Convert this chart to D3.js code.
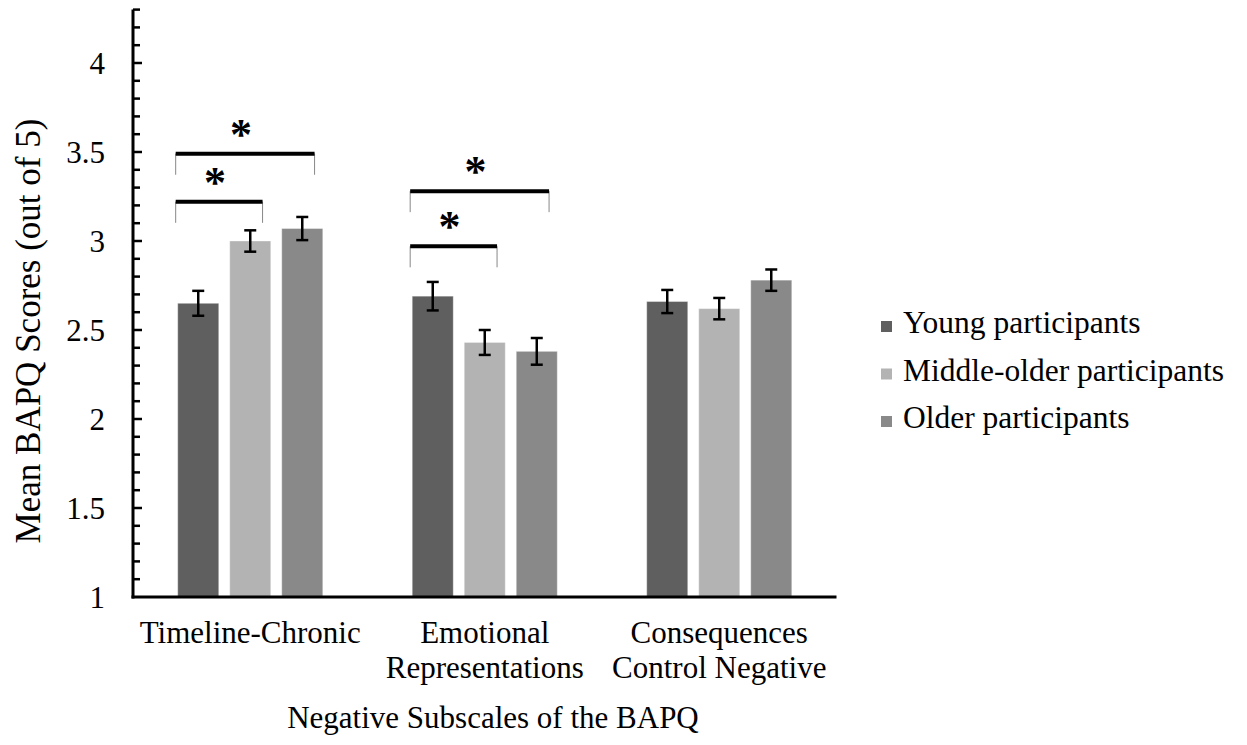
<!DOCTYPE html>
<html>
<head>
<meta charset="utf-8">
<script src="https://cdn.jsdelivr.net/npm/d3@7"></script>
<style>
  html, body { margin: 0; padding: 0; background: #fff; }
  svg text { font-family: 'Liberation Serif', 'Times New Roman', serif; fill: #000; }
</style>
</head>
<body>
<div id="chart"></div>
<script>
// chart data
const categories = [['Timeline-Chronic'], ['Emotional', 'Representations'], ['Consequences', 'Control Negative']];
const seriesNames = ['Young participants', 'Middle-older participants', 'Older participants'];
const seriesColors = ['#5f5f5f', '#b3b3b3', '#898989'];
const youngMeans = [2.65, 2.69, 2.66];
const middleMeans = [3.00, 2.43, 2.62];
const olderMeans = [3.07, 2.38, 2.78];
const youngErr = [0.07, 0.08, 0.065];
const middleErr = [0.06, 0.07, 0.06];
const olderErr = [0.065, 0.075, 0.06];
const yTicks = [1, 1.5, 2, 2.5, 3, 3.5, 4];
// significance brackets: group, from series, to series, level (score)
const brackets = [
    { group: 0, from: 0, to: 2, level: 3.49 },
    { group: 0, from: 0, to: 1, level: 3.22 },
    { group: 1, from: 0, to: 2, level: 3.28 },
    { group: 1, from: 0, to: 1, level: 2.97 }
];

function drawChart() {
    const width = 1247, height = 745;
    const svg = d3.select('#chart').append('svg')
        .attr('width', width)
        .attr('height', height)
        .attr('font-family', "'Liberation Serif', 'Times New Roman', serif");

    const x0 = d3.scaleBand()
        .domain(d3.range(categories.length))
        .range([133, 836.5]);

    const x1 = d3.scaleBand()
        .domain(d3.range(seriesNames.length))
        .range([0, x0.bandwidth()])
        .paddingInner(0.2115)
        .paddingOuter(0.86);

    const y = d3.scaleLinear()
        .domain([1, 4.3])
        .range([597, 9.6]);

    const means = [youngMeans, middleMeans, olderMeans];
    const errs = [youngErr, middleErr, olderErr];

    const rows = [];
    categories.forEach((c, gi) => {
        seriesNames.forEach((s, si) => {
            rows.push({ gi, si, v: means[si][gi], e: errs[si][gi] });
        });
    });

    // bars
    svg.append('g').selectAll('rect')
        .data(rows)
        .enter()
        .append('rect')
        .attr('x', d => x0(d.gi) + x1(d.si))
        .attr('y', d => y(d.v))
        .attr('width', x1.bandwidth())
        .attr('height', d => y(1) - y(d.v))
        .attr('fill', d => seriesColors[d.si])
        .attr('stroke', '#fff')
        .attr('stroke-opacity', 0.35)
        .attr('stroke-width', 1);

    // error bars
    const eb = svg.append('g').attr('stroke', '#000').attr('stroke-width', 2.5);
    rows.forEach(d => {
        const cx = x0(d.gi) + x1(d.si) + x1.bandwidth() / 2;
        eb.append('line').attr('x1', cx).attr('x2', cx).attr('y1', y(d.v + d.e)).attr('y2', y(d.v - d.e));
        eb.append('line').attr('x1', cx - 6).attr('x2', cx + 6).attr('y1', y(d.v + d.e)).attr('y2', y(d.v + d.e));
        eb.append('line').attr('x1', cx - 6).attr('x2', cx + 6).attr('y1', y(d.v - d.e)).attr('y2', y(d.v - d.e));
    });

    // y axis with minor ticks pointing inward
    const yAxis = svg.append('g');
    yAxis.append('line')
        .attr('x1', 133).attr('x2', 133)
        .attr('y1', y(4.3)).attr('y2', y(1) + 1.5)
        .attr('stroke', '#000').attr('stroke-width', 3);
    const minor = d3.range(11, 44).map(v => v / 10);
    yAxis.selectAll('line.tick')
        .data(minor)
        .enter()
        .append('line')
        .attr('class', 'tick')
        .attr('x1', 133)
        .attr('x2', v => (Math.abs(v * 2 - Math.round(v * 2)) < 1e-6) ? 142 : 140)
        .attr('y1', v => y(v)).attr('y2', v => y(v))
        .attr('stroke', '#000').attr('stroke-width', 2.5);
    yAxis.selectAll('text')
        .data(yTicks)
        .enter()
        .append('text')
        .attr('x', 105)
        .attr('y', v => y(v))
        .attr('dy', '0.35em')
        .attr('text-anchor', 'end')
        .attr('font-size', 31)
        .text(v => v);

    // x axis
    svg.append('line')
        .attr('x1', 131.5).attr('x2', 836.5)
        .attr('y1', y(1)).attr('y2', y(1))
        .attr('stroke', '#000').attr('stroke-width', 3);

    // category labels
    categories.forEach((lines, gi) => {
        const t = svg.append('text')
            .attr('x', x0(gi) + x0.bandwidth() / 2)
            .attr('y', 643)
            .attr('text-anchor', 'middle')
            .attr('font-size', 31);
        lines.forEach((l, li) => {
            t.append('tspan')
                .attr('x', x0(gi) + x0.bandwidth() / 2)
                .attr('dy', li === 0 ? 0 : 35)
                .text(l);
        });
    });

    // axis titles
    svg.append('text')
        .attr('x', 493)
        .attr('y', 728)
        .attr('text-anchor', 'middle')
        .attr('font-size', 31)
        .text('Negative Subscales of the BAPQ');

    svg.append('text')
        .attr('transform', 'translate(28,331) rotate(-90)')
        .attr('text-anchor', 'middle')
        .attr('dy', '0.35em')
        .attr('font-size', 35)
        .text('Mean BAPQ Scores (out of 5)');

    // significance brackets
    const bw = x1.bandwidth();
    brackets.forEach(b => {
        const xs = x0(b.group) + x1(b.from) - bw * 0.05;
        const xe = x0(b.group) + x1(b.to) + bw * 0.8;
        const ly = y(b.level);
        svg.append('path')
            .attr('d', `M${xs},${ly + 21}V${ly}H${xe}V${ly + 21}`)
            .attr('fill', 'none')
            .attr('stroke', '#888')
            .attr('stroke-width', 1);
        svg.append('line')
            .attr('x1', xs).attr('x2', xe)
            .attr('y1', ly).attr('y2', ly)
            .attr('stroke', '#000').attr('stroke-width', 4);
        svg.append('text')
            .attr('x', (xs + xe) / 2 - 4)
            .attr('y', ly - 5)
            .attr('text-anchor', 'middle')
            .attr('font-size', 44)
            .attr('font-weight', 'bold')
            .text('*');
    });

    // legend
    const legend = svg.append('g');
    seriesNames.forEach((name, i) => {
        const ly = 325 + i * 47.5;
        legend.append('rect')
            .attr('x', 881).attr('y', ly - 4)
            .attr('width', 11).attr('height', 11)
            .attr('fill', seriesColors[i]);
        legend.append('text')
            .attr('x', 903).attr('y', ly + 8)
            .attr('font-size', 31.5)
            .text(name);
    });
}

document.addEventListener('DOMContentLoaded', drawChart);
</script>
</body>
</html>
